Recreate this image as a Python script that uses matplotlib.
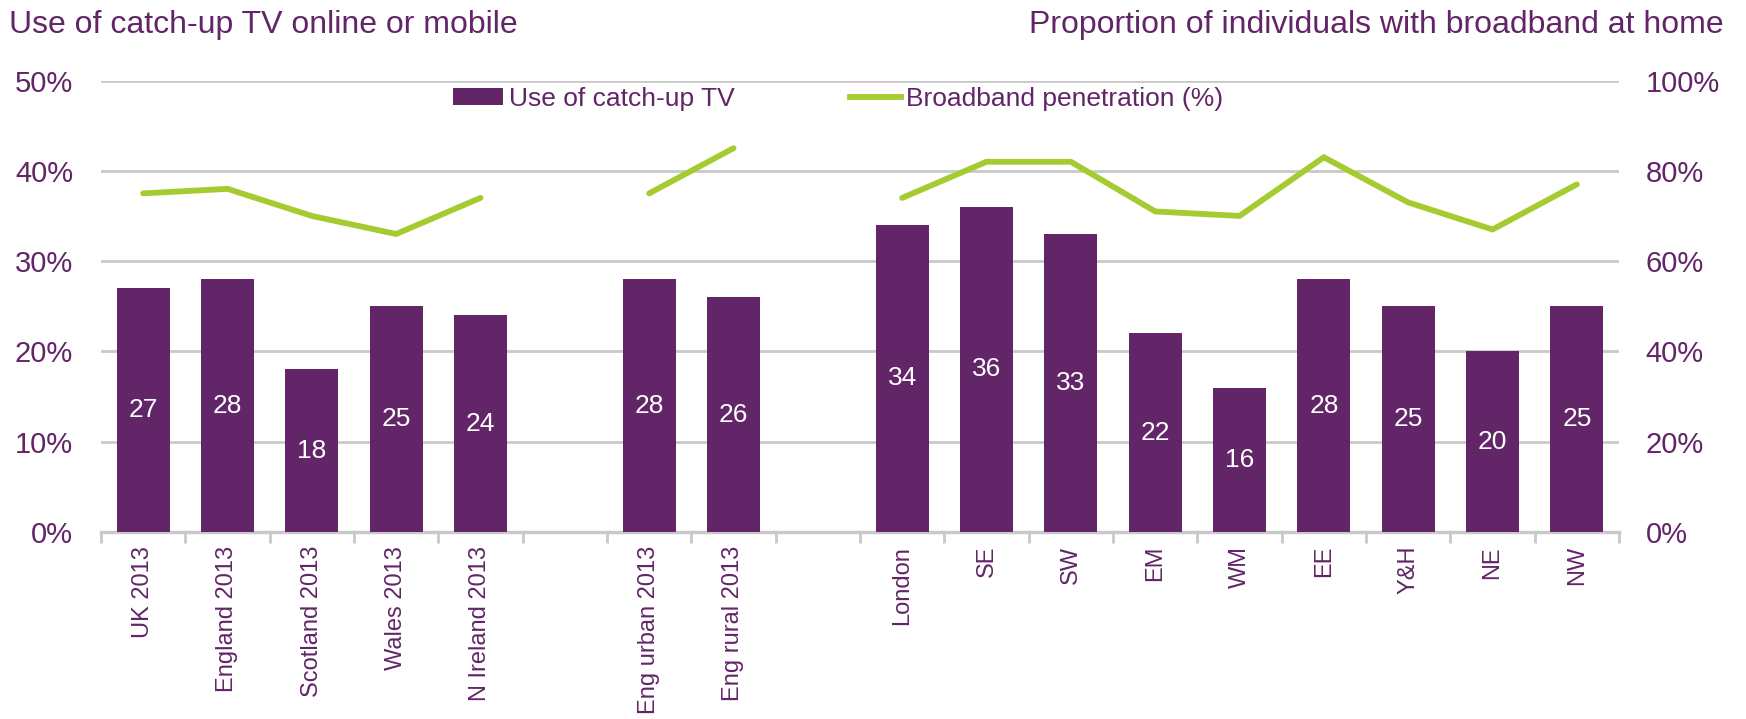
import numpy as np
import matplotlib
matplotlib.use("Agg")
import matplotlib.pyplot as plt
from matplotlib.patches import Patch
from matplotlib.lines import Line2D

plt.rcParams["font.family"] = ["Liberation Sans", "DejaVu Sans"]

# Regions, in three groups separated by an empty slot
group_uk = ["UK 2013", "England 2013", "Scotland 2013", "Wales 2013", "N Ireland 2013"]
group_eng = ["Eng urban 2013", "Eng rural 2013"]
group_regions = ["London", "SE", "SW", "EM", "WM", "EE", "Y&H", "NE", "NW"]

# Use of catch-up TV online or mobile (%)
catchup_uk = [27, 28, 18, 25, 24]
catchup_eng = [28, 26]
catchup_regions = [34, 36, 33, 22, 16, 28, 25, 20, 25]

# Broadband penetration (%)
broadband_uk = [75, 76, 70, 66, 74]
broadband_eng = [75, 85]
broadband_regions = [74, 82, 82, 71, 70, 83, 73, 67, 77]

left_ticks = [0, 10, 20, 30, 40, 50]
right_ticks = [0, 20, 40, 60, 80, 100]

PURPLE = "#622567"
GREEN = "#a4cc30"
GRID = "#c9c9c9"

groups = [
    (group_uk, catchup_uk, broadband_uk),
    (group_eng, catchup_eng, broadband_eng),
    (group_regions, catchup_regions, broadband_regions),
]

fig = plt.figure(figsize=(17.46, 7.19), dpi=100)
ax = fig.add_axes([101 / 1746, (719 - 532) / 719, 1518 / 1746, 451.5 / 719])
ax2 = ax.twinx()

positions, labels = [], []
slot = 0
for gi, (names, cu, bb) in enumerate(groups):
    xs = np.arange(slot, slot + len(names))
    ax.bar(xs, cu, width=0.63, color=PURPLE, zorder=3)
    for x, v in zip(xs, cu):
        ax.text(x, v / 2, f"{v}", ha="center", va="center", color="white",
                fontsize=19, zorder=4)
    ax2.plot(xs, bb, color=GREEN, lw=4.2, solid_capstyle="round",
             solid_joinstyle="miter", zorder=3)
    positions.extend(xs)
    labels.extend(names)
    slot += len(names) + 1
n_slots = slot - 1

ax.set_xlim(-0.5, n_slots - 0.5)
ax.set_ylim(0, 50)
ax2.set_ylim(0, 100)

# Gridlines and percentage scales
ax.set_yticks(left_ticks)
ax.set_yticklabels([f"{t}%" for t in left_ticks])
ax2.set_yticks(right_ticks)
ax2.set_yticklabels([f"{t}%" for t in right_ticks])
ax.grid(axis="y", color=GRID, lw=2.0, zorder=0)
ax.set_axisbelow(True)

# Category labels and boundary ticks
ax.set_xticks(positions)
ax.set_xticklabels(labels, rotation=90, fontsize=17, color=PURPLE)
ax.tick_params(axis="x", which="major", length=0, pad=10)
ax.set_xticks(np.arange(-0.5, n_slots, 1.0), minor=True)
ax.tick_params(axis="x", which="minor", length=8, width=2, color=GRID)

ax.tick_params(axis="y", length=0, labelsize=21, labelcolor=PURPLE, pad=20)
ax2.tick_params(axis="y", length=0, labelsize=21, labelcolor=PURPLE, pad=19)

for a in (ax, ax2):
    for s in ("top", "left", "right"):
        a.spines[s].set_visible(False)
    a.spines["bottom"].set_color(GRID)
    a.spines["bottom"].set_linewidth(2.5)
ax2.spines["bottom"].set_visible(False)

# Legend
handles = [
    Patch(facecolor=PURPLE, edgecolor="none", label="Use of catch-up TV"),
    Line2D([0], [0], color=GREEN, lw=4.2, label="Broadband penetration (%)"),
]
leg = ax2.legend(handles=handles, ncol=2, loc="center",
                 bbox_to_anchor=((838 - 101) / 1518, (532 - 99) / 451.5),
                 frameon=False, fontsize=19, handlelength=1.9, handleheight=0.6,
                 handletextpad=0.2, columnspacing=4.4, borderpad=0)
for t in leg.get_texts():
    t.set_color(PURPLE)

# Axis titles
fig.text(9 / 1746, 1 - 33 / 719, "Use of catch-up TV online or mobile",
         ha="left", va="baseline", fontsize=23, color=PURPLE)
fig.text(1724 / 1746, 1 - 33 / 719, "Proportion of individuals with broadband at home",
         ha="right", va="baseline", fontsize=23, color=PURPLE)

fig.savefig("out.png", dpi=100)
